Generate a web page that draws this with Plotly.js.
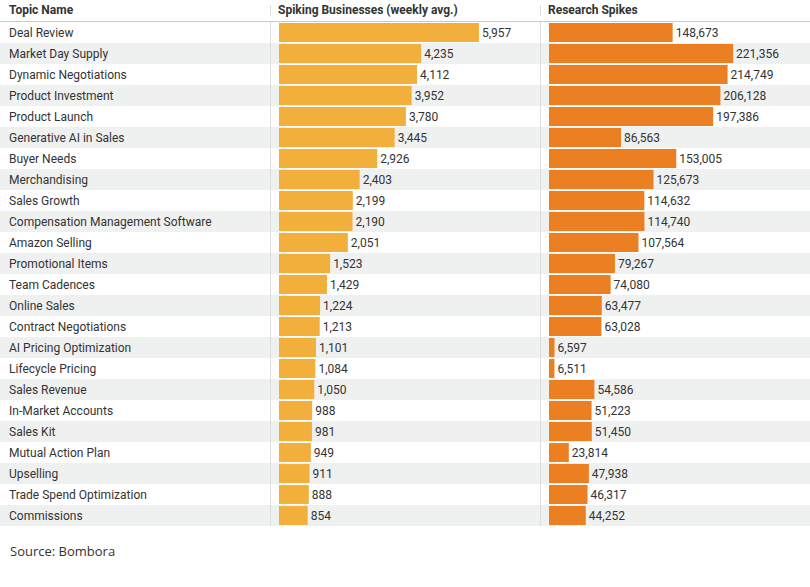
<!DOCTYPE html>
<html>
<head>
<meta charset="utf-8">
<script src="https://cdn.plot.ly/plotly-3.0.1.min.js"></script>
<style>html,body{margin:0;padding:0;background:#fff;}#chart{width:810px;height:587px;}</style>
</head>
<body>
<div id="chart"></div>
<script>
var topics = ["Deal Review","Market Day Supply","Dynamic Negotiations","Product Investment","Product Launch","Generative AI in Sales","Buyer Needs","Merchandising","Sales Growth","Compensation Management Software","Amazon Selling","Promotional Items","Team Cadences","Online Sales","Contract Negotiations","AI Pricing Optimization","Lifecycle Pricing","Sales Revenue","In-Market Accounts","Sales Kit","Mutual Action Plan","Upselling","Trade Spend Optimization","Commissions"];
var spikingBusinesses = [5957,4235,4112,3952,3780,3445,2926,2403,2199,2190,2051,1523,1429,1224,1213,1101,1084,1050,988,981,949,911,888,854];
var researchSpikes = [148673,221356,214749,206128,197386,86563,153005,125673,114632,114740,107564,79267,74080,63477,63028,6597,6511,54586,51223,51450,23814,47938,46317,44252];
var headers = ["Topic Name","Spiking Businesses (weekly avg.)","Research Spikes"];
var sourceText = "Source: Bombora";

var W = 810, H = 587;
function px(x){ return x / W; }
function py(y){ return 1 - y / H; }

var txtColor = "#333333";
var data = [
  {type:"bar", orientation:"h", x:spikingBusinesses, y:topics, xaxis:"x", yaxis:"y",
   marker:{color:"#F3AF3C"}, texttemplate:"%{x:,}", textposition:"outside", cliponaxis:false,
   textfont:{size:12, color:txtColor, family:"Roboto"}, hoverinfo:"none"},
  {type:"bar", orientation:"h", x:researchSpikes, y:topics, xaxis:"x2", yaxis:"y",
   marker:{color:"#EC7F22"}, texttemplate:"%{x:,}", textposition:"outside", cliponaxis:false,
   textfont:{size:12, color:txtColor, family:"Roboto"}, hoverinfo:"none"}
];

var shapes = [];
topics.forEach(function(t,i){
  if (i % 2 === 1) {
    shapes.push({type:"rect", xref:"paper", yref:"y", x0:0, x1:1, y0:i-0.5, y1:i+0.5,
      fillcolor:"#EFF0F0", line:{width:0}, layer:"below"});
  }
});
// header line
shapes.push({type:"line", xref:"paper", yref:"paper", x0:0, x1:1, y0:py(21.5), y1:py(21.5), line:{color:"#C8C8C8", width:1}});
// column separators
[270.5, 540.5].forEach(function(xp){
  shapes.push({type:"line", xref:"paper", yref:"paper", x0:px(xp), x1:px(xp), y0:py(5), y1:py(16), line:{color:"#DDDDDD", width:1}});
  shapes.push({type:"line", xref:"paper", yref:"paper", x0:px(xp), x1:px(xp), y0:py(22), y1:py(526), line:{color:"#DDDDDD", width:1}});
});

var annotations = [];
topics.forEach(function(t){
  annotations.push({xref:"paper", yref:"y", x:px(7), y:t, text:t, showarrow:false, xanchor:"left", yanchor:"middle",
    font:{size:12, color:txtColor, family:"Roboto"}});
});
var hx = [7, 276, 546];
headers.forEach(function(h,i){
  annotations.push({xref:"paper", yref:"paper", x:px(hx[i]), y:py(10), text:"<b>"+h+"</b>", showarrow:false,
    xanchor:"left", yanchor:"middle", font:{size:12, color:txtColor, family:"Roboto"}});
});
annotations.push({xref:"paper", yref:"paper", x:px(8), y:py(551), text:sourceText, showarrow:false,
  xanchor:"left", yanchor:"middle", font:{size:13, color:txtColor, family:"Open Sans"}});

var layout = {
  width:W, height:H, margin:{l:0,r:0,t:0,b:0}, paper_bgcolor:"#fff", plot_bgcolor:"rgba(0,0,0,0)",
  font:{family:"Roboto", color:txtColor}, showlegend:false, bargap:0.1,
  xaxis:{domain:[px(279), px(531)], range:[0,7507], visible:false, fixedrange:true},
  xaxis2:{domain:[px(549), px(801)], range:[0,303000], visible:false, fixedrange:true},
  yaxis:{domain:[py(526), py(22)], type:"category", autorange:false, range:[topics.length-0.5, -0.5], visible:false, fixedrange:true},
  shapes:shapes, annotations:annotations
};
Plotly.newPlot("chart", data, layout, {displayModeBar:false, staticPlot:true});
</script>
</body>
</html>
